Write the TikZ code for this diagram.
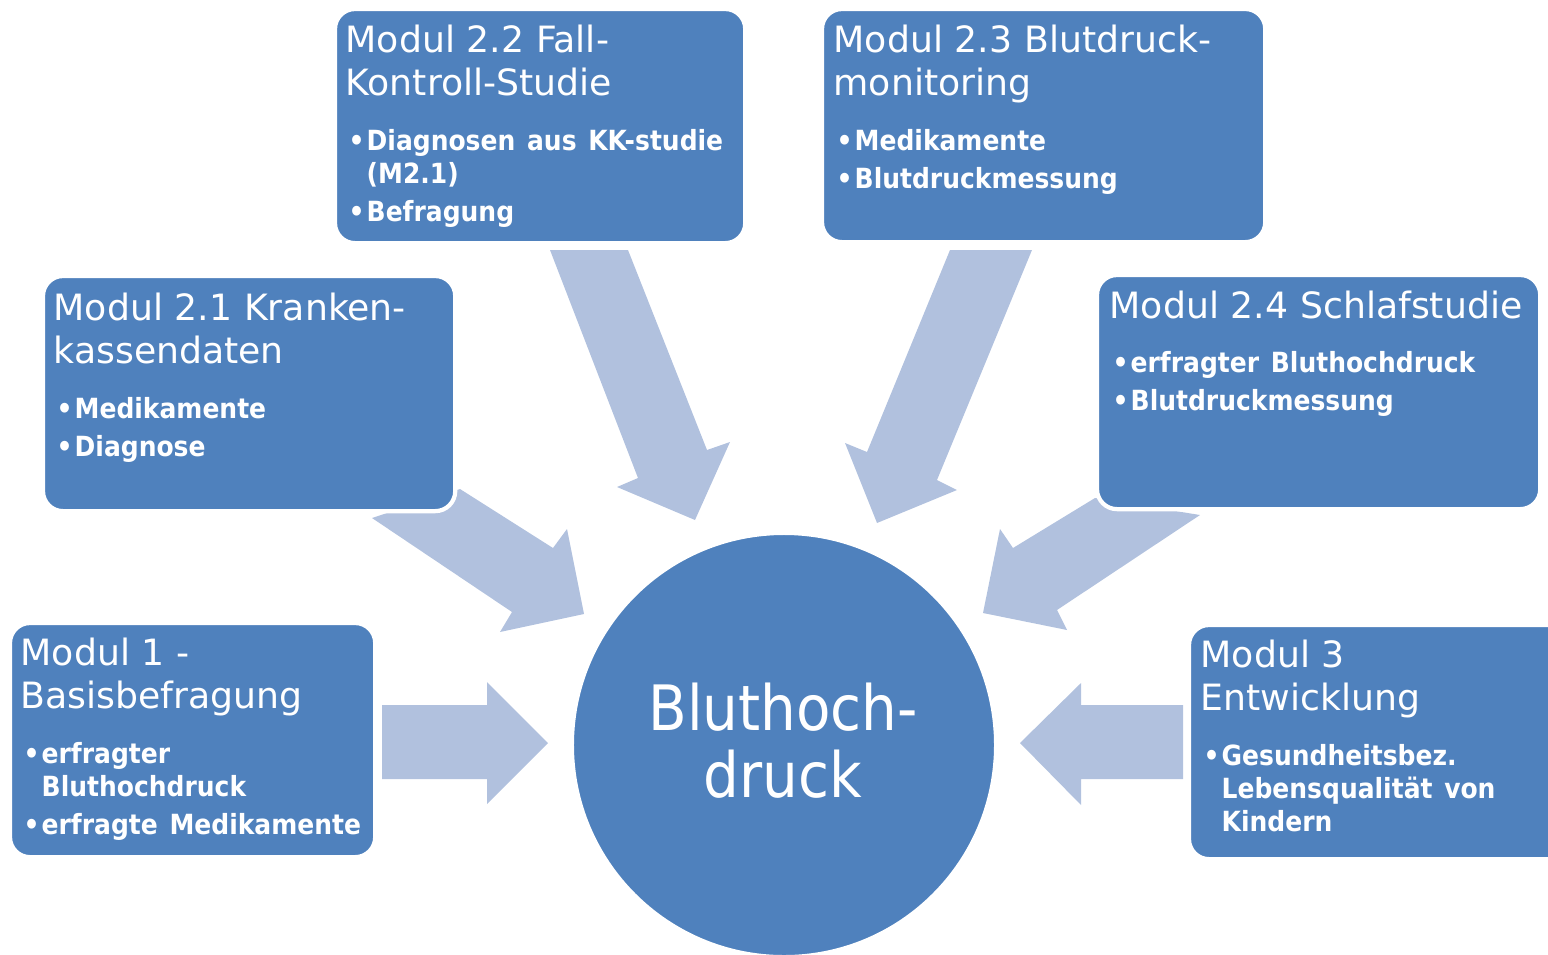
\documentclass[tikz,border=0pt]{standalone}
\usepackage{fontspec}
\setmainfont{DejaVu Sans Condensed}
\newfontfamily\titlefont{DejaVu Sans}
\definecolor{boxblue}{HTML}{4F81BD}
\definecolor{arrowblue}{HTML}{B1C1DE}
\newcommand{\ttlf}{\titlefont\fontsize{10.3}{12.5}\selectfont}
\newcommand{\bulf}{\normalfont\bfseries\fontsize{7.9}{9.4}\selectfont}
\newcommand{\itm}{\par\vspace{0.5mm}\hangindent=2.1mm\hangafter=1\noindent\makebox[2.1mm][l]{\hspace{0.3mm}•}}
\newcommand{\gap}{\par\vspace{1.6mm}}
\tikzset{
  modbox/.style={draw=white, line width=1.2pt, fill=boxblue, rounded corners=0.2cm, anchor=north west, inner sep=0pt, outer sep=0pt},
  modtxt/.style={anchor=base west, text width=6cm, align=left, text=white, inner sep=0pt},
  blockarrow/.style={fill=arrowblue}
}
\begin{document}
\begin{tikzpicture}[x=0.01cm, y=-0.01cm]
\useasboundingbox (0,0) rectangle (1548,954);
% block arrows
\fill[blockarrow] (382,705) -- (487,705) -- (487,682) -- (548,743) -- (487,804) -- (487,779) -- (382,779) -- cycle;
\fill[blockarrow] (1183,705) -- (1081,705) -- (1081,683) -- (1020,743) -- (1081,805) -- (1081,779) -- (1183,779) -- cycle;
\fill[blockarrow] (372,518) -- (460,489) -- (553,548) -- (567,529) -- (584,614) -- (500,632) -- (512,612) -- cycle;
\fill[blockarrow] (550,250) -- (628,250) -- (707,450) -- (730,442) -- (695,520) -- (617,487) -- (638,478) -- cycle;
\fill[blockarrow] (950,250) -- (1032,250) -- (937,480) -- (957,490) -- (877,523) -- (845,443) -- (867,452) -- cycle;
\fill[blockarrow] (1095,498) -- (1200,515) -- (1057,610) -- (1067,630) -- (983,613) -- (1000,529) -- (1013,548) -- cycle;
% boxes
\node[modbox, minimum width=4.10cm, minimum height=2.34cm] (m22) at (335,9) {};
\node[modbox, minimum width=4.43cm, minimum height=2.33cm] (m23) at (822,9) {};
\node[modbox, minimum width=4.12cm, minimum height=2.35cm] (m21) at (43,276) {};
\node[modbox, minimum width=4.43cm, minimum height=2.34cm] (m24) at (1097,275) {};
\node[modbox, minimum width=3.65cm, minimum height=2.34cm] (m1) at (10,623) {};
\node[modbox, minimum width=4.00cm, minimum height=2.34cm] (m3) at (1189,625) {};
% centre
\node[circle, draw=white, line width=1.2pt, fill=boxblue, minimum size=4.24cm, inner sep=0pt, outer sep=0pt] (c) at (784,745) {};
\node[anchor=base, text width=4cm, align=center, text=white, inner sep=0pt,
      font=\fontsize{17.8}{19.1}\selectfont] (ct) at (783,730) {Bluthoch-\\druck};
% texts
\node[modtxt] (t22) at (345,52) {\ttlf Modul 2.2 Fall-\\Kontroll-Studie\gap\bulf
  \itm Diagnosen aus KK-studie\newline(M2.1)\itm Befragung\par};
\node[modtxt] (t23) at (833,52) {\ttlf Modul 2.3 Blutdruck-\\monitoring\gap\bulf
  \itm Medikamente\itm Blutdruckmessung\par};
\node[modtxt] (t21) at (53,320) {\ttlf Modul 2.1 Kranken-\\kassendaten\gap\bulf
  \itm Medikamente\itm Diagnose\par};
\node[modtxt] (t24) at (1109,318) {\ttlf Modul 2.4 Schlafstudie\gap\bulf
  \itm erfragter Bluthochdruck\itm Blutdruckmessung\par};
\node[modtxt] (t1) at (20,665) {\ttlf Modul 1 -\\Basisbefragung\gap\bulf
  \itm erfragter\newline Bluthochdruck\itm erfragte Medikamente\par};
\node[modtxt] (t3) at (1200,667) {\ttlf Modul 3\\Entwicklung\gap\bulf
  \itm Gesundheitsbez.\newline Lebensqualität von\newline Kindern\par};
\end{tikzpicture}
\end{document}
